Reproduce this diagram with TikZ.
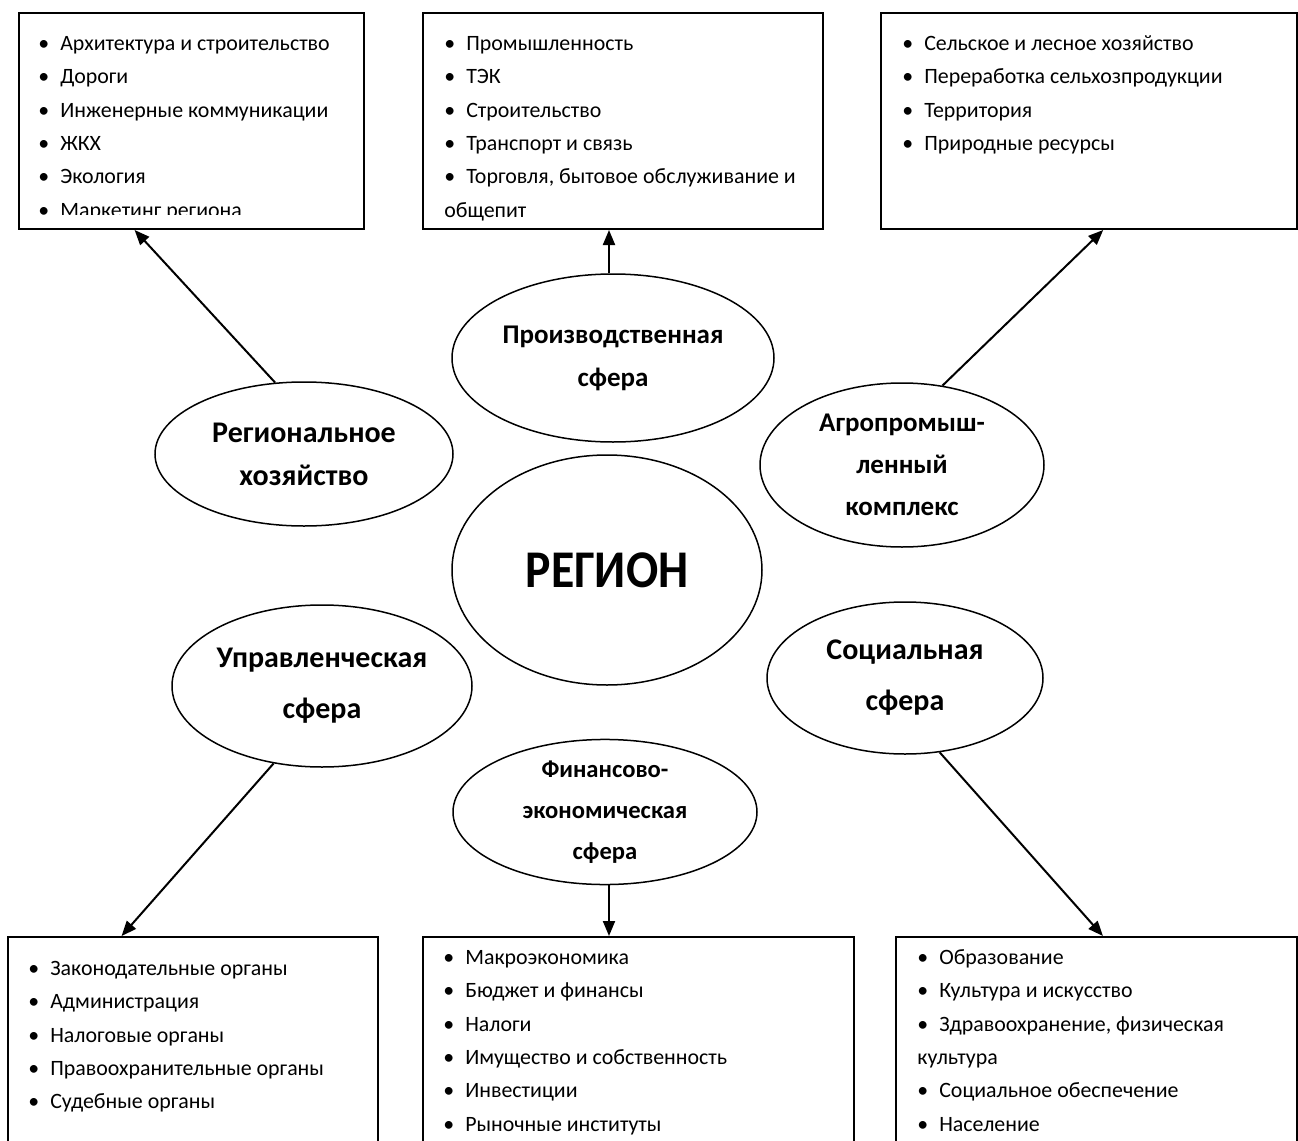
\documentclass[tikz,border=0pt]{standalone}
\usepackage{fontspec}
\setmainfont{Carlito}
\usetikzlibrary{arrows.meta,calc,shapes.geometric}

\tikzset{
	sphere/.style={ellipse, draw, line width=0.75pt, inner sep=0pt, align=center},
	spheretext/.style={font=\fontsize{13.5}{21.5}\selectfont\bfseries},
	listbox/.style={draw, line width=1pt, rectangle, inner sep=0pt},
	listtext/.style={anchor=north west, inner sep=0pt, align=left, font=\fontsize{10.95}{16.7}\selectfont},
	arr/.style={-{Triangle[length=7.5pt,width=6pt]}, line width=1pt}
}
\newcommand{\itm}{\textbullet\hspace{5.5pt}}

\begin{document}
\begin{tikzpicture}[x=0.5pt, y=-0.5pt]
			%%%%% START %%%%%
			\useasboundingbox (0,0) rectangle (1298,1141);
			
			% boxes
			\node[listbox, minimum width=172.5pt, minimum height=108pt] (boxHoz) at (191.5,121) {};
			\node[listbox, minimum width=200pt, minimum height=108pt] (boxProm) at (623,121) {};
			\node[listbox, minimum width=208pt, minimum height=108pt] (boxAgro) at (1089,121) {};
			\node[listbox, minimum width=185pt, minimum height=111.5pt] (boxUpr) at (193,1048.5) {};
			\node[listbox, minimum width=215.5pt, minimum height=111.5pt] (boxFin) at (638.5,1048.5) {};
			\node[listbox, minimum width=200.5pt, minimum height=111.5pt] (boxSoc) at (1096.5,1048.5) {};
			
			\begin{scope}
				\clip (19,13) rectangle (364,214);
				\node[listtext] (txtHoz) at ([shift={(20,14.6)}]boxHoz.north west)
				{\strut\itm Архитектура и строительство\\ \itm Дороги\\ \itm Инженерные коммуникации\\
					\itm ЖКХ\\ \itm Экология\\ \itm Маркетинг региона};
			\end{scope}
			\node[listtext] (txtProm) at ([shift={(22,14.6)}]boxProm.north west)
			{\strut\itm Промышленность\\ \itm ТЭК\\ \itm Строительство\\ \itm Транспорт и связь\\
				\itm Торговля, бытовое обслуживание и\\ общепит};
			\node[listtext] (txtAgro) at ([shift={(22,14.6)}]boxAgro.north west)
			{\strut\itm Сельское и лесное хозяйство\\ \itm Переработка сельхозпродукции\\
				\itm Территория\\ \itm Природные ресурсы};
			\node[listtext] (txtUpr) at ([shift={(21,15.6)}]boxUpr.north west)
			{\strut\itm Законодательные органы\\ \itm Администрация\\ \itm Налоговые органы\\
				\itm Правоохранительные органы\\ \itm Судебные органы};
			\node[listtext] (txtFin) at ([shift={(21,4.6)}]boxFin.north west)
			{\strut\itm Макроэкономика\\ \itm Бюджет и финансы\\ \itm Налоги\\
				\itm Имущество и собственность\\ \itm Инвестиции\\ \itm Рыночные институты};
			\node[listtext] (txtSoc) at ([shift={(22,4.6)}]boxSoc.north west)
			{\strut\itm Образование\\ \itm Культура и искусство\\ \itm Здравоохранение, физическая\\
				культура\\ \itm Социальное обеспечение\\ \itm Население};
			
			% spheres
			\node[sphere, minimum width=149pt, minimum height=72pt, font=\fontsize{15}{21.5}\selectfont\bfseries] (hoz) at (304,454) {Региональное\\хозяйство};
			\node[sphere, spheretext, minimum width=161pt, minimum height=84pt] (prod) at (613,358) {Производственная\\сфера};
			\node[sphere, minimum width=142pt, minimum height=82pt, font=\fontsize{13.5}{21}\selectfont\bfseries] (agro) at (902,465) {Агропромыш-\\ленный\\комплекс};
			\node[sphere, minimum width=155pt, minimum height=115pt, font=\fontsize{26.5}{30}\selectfont\bfseries] (region) at (607,570) {\scalebox{0.9}[1]{РЕГИОН}};
			\node[sphere, minimum width=150pt, minimum height=81pt, font=\fontsize{15}{25.5}\selectfont\bfseries] (upr) at (322,686) {Управленческая\\сфера};
			\node[sphere, minimum width=138pt, minimum height=76pt, font=\fontsize{15}{25.5}\selectfont\bfseries] (soc) at (905,678) {Социальная\\сфера};
			\node[sphere, minimum width=152pt, minimum height=72pt, font=\fontsize{12.3}{20.5}\selectfont\bfseries] (fin) at (605,812) {Финансово-\\экономическая\\сфера};
			
			% arrows
			\draw[arr] (hoz.112) -- ($(boxHoz.south west)!0.336!(boxHoz.south east)$);
			\draw[arr] ([xshift=-2pt]prod.north) -- ([xshift=-2pt]prod.north |- boxProm.south);
			\draw[arr] (agro.63) -- ($(boxAgro.south west)!0.534!(boxAgro.south east)$);
			\draw[arr] (upr.238) -- ($(boxUpr.north west)!0.308!(boxUpr.north east)$);
			\draw[arr] ([xshift=2pt]fin.south) -- ([xshift=2pt]fin.south |- boxFin.north);
			\draw[arr] (soc.295) -- ($(boxSoc.north west)!0.516!(boxSoc.north east)$);
			
			%%%%% END %%%%%
\end{tikzpicture}
\end{document}
